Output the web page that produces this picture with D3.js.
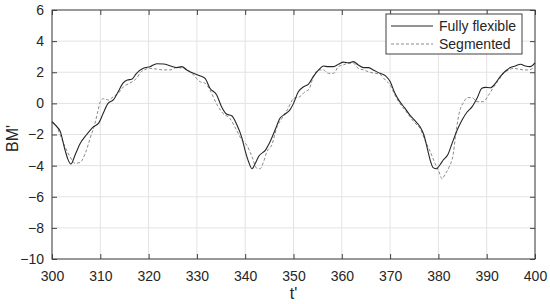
<!DOCTYPE html>
<meta charset="utf-8">
<head>
    <script src="https://d3js.org/d3.v7.min.js"></script>
    <style>
        body { margin: 0; background: #fff; }
        text { font-family: 'Liberation Sans', Arial, sans-serif; fill: #262626; }
    </style>
</head>
<body>
<div id="chart"></div>
<script>

// Fully flexible: t' and BM'
var flexT  = [300,301,301.7,302.7,303.3,303.9,304.8,305.8,307.2,308.6,309.7,310.6,311.6,312.7,313.7,314.7,315.6,316.5,317.5,318.9,320.3,321.7,323.1,324.4,325.8,326.9,327.9,329.3,330.6,331.7,332.7,334.1,335.1,336.2,337.2,338.3,339.3,340,340.7,341.4,342.1,342.8,344.2,345.1,346.2,347.2,348.2,349.3,350,351,352.1,353.1,354.1,355.2,356.2,357.2,358.3,359.3,360.3,361.4,362.4,363.4,364.5,365.5,366.5,367.9,369,370,371,372,373.1,374.1,375.2,376.2,377,377.7,378.4,378.9,379.6,380.3,381,382,382.8,383.9,384.9,385.9,387,388,389,389.7,390.8,391.8,392.8,393.9,394.9,395.9,397,398,399,400]
var flexBM = [-1.18,-1.5,-1.8,-3.0,-3.6,-3.9,-3.3,-2.6,-2.0,-1.5,-1.25,-0.64,0.0,0.22,0.75,1.3,1.5,1.55,1.93,2.25,2.36,2.55,2.53,2.42,2.3,2.36,2.15,1.93,1.78,1.6,0.97,0.54,-0.21,-0.7,-0.79,-1.39,-2.2,-3.05,-3.75,-4.2,-3.85,-3.4,-3.0,-2.5,-1.7,-0.96,-0.7,-0.4,0.0,0.75,1.07,1.23,1.72,2.15,2.4,2.36,2.36,2.51,2.65,2.6,2.68,2.47,2.3,2.3,2.15,1.93,1.78,1.4,0.65,0.11,-0.32,-0.75,-1.13,-1.5,-2.03,-2.89,-3.75,-4.13,-4.2,-3.96,-3.64,-3.27,-2.6,-1.71,-1.07,-0.57,-0.21,0.33,0.97,1.03,1.0,1.29,1.72,2.08,2.3,2.4,2.51,2.4,2.36,2.6]

// Segmented: t' and BM'
var segT  = [300,301,301.7,302.7,303.7,304.8,305.8,306.9,307.9,308.9,309.5,310,310.6,311.7,312.7,313.7,314.8,316.1,317.5,318.5,320.3,321.7,323.1,324.4,325.8,327.2,328.6,329.6,330.6,331.7,332.7,334.1,335.4,336.8,338.2,339.3,340.3,341.4,342.4,343.1,343.8,344.5,345.5,346.6,347.6,348.7,350.1,351.3,352.4,353.2,354.1,355.2,356.2,357.2,358.3,359.3,360.3,361.4,362.4,363.4,364.5,365.8,367.9,369,370,371,372,373.1,374.1,375.2,376.2,377.2,378.3,379.3,380,380.8,381.3,382.2,383.1,383.5,384.3,385.3,386,387,388,389.3,390.4,391.5,392.5,393.5,394.6,395.6,396.6,397.6,398.7,400]
var segBM = [-1.2,-1.5,-2.03,-2.78,-3.42,-3.85,-3.8,-3.2,-2.24,-1.28,-0.5,0.11,0.3,0.22,0.43,0.65,1.07,1.3,1.61,2.04,2.25,2.2,2.15,2.15,2.3,2.25,2.04,1.72,1.4,1.29,0.86,-0.05,-0.64,-0.96,-1.71,-2.35,-2.67,-3.42,-4.17,-4.2,-3.75,-3.1,-2.67,-1.5,-0.96,-0.42,0.33,0.43,0.75,0.9,1.72,2.15,2.15,1.93,1.93,2.36,2.47,2.58,2.58,2.25,2.15,2.0,1.86,1.5,1.18,0.54,0.0,-0.43,-0.86,-1.28,-1.6,-2.35,-3.1,-3.85,-4.3,-4.85,-4.6,-4.1,-3.2,-2.2,-0.64,0.11,0.37,0.37,0.11,0.11,0.54,1.07,1.5,1.93,2.15,2.25,2.2,2.15,2.15,2.36]

var xTicks = [300,310,320,330,340,350,360,370,380,390,400]
var yTicks = [-10,-8,-6,-4,-2,0,2,4,6]
var seriesNames = ["Fully flexible", "Segmented"]

var width = 550, height = 304
var margin = {top: 10, right: 15, bottom: 45, left: 52}
var w = width - margin.left - margin.right
var h = height - margin.top - margin.bottom

var svg = d3.select("#chart").append("svg")
    .attr("width", width).attr("height", height)
var g = svg.append("g")
    .attr("transform", "translate(" + margin.left + "," + margin.top + ")")

var x = d3.scaleLinear().domain([300, 400]).range([0, w])
var y = d3.scaleLinear().domain([-10, 6]).range([h, 0])

// grid
g.selectAll(".vgrid").data(xTicks).enter().append("line")
    .attr("x1", d => x(d)).attr("x2", d => x(d))
    .attr("y1", 0).attr("y2", h)
    .attr("stroke", "#e3e3e3").attr("stroke-width", 1)
g.selectAll(".hgrid").data(yTicks).enter().append("line")
    .attr("x1", 0).attr("x2", w)
    .attr("y1", d => y(d)).attr("y2", d => y(d))
    .attr("stroke", "#e3e3e3").attr("stroke-width", 1)

// axes, ticks pointing inward
var tickLen = 5
function styleAxis(sel) {
    sel.select(".domain").remove()
    sel.selectAll("line").attr("stroke", "#404040")
    sel.selectAll("text").style("font-size", "14px").attr("fill", "#262626")
        .style("font-family", "'Liberation Sans', Arial, sans-serif")
}
g.append("g").attr("transform", "translate(0," + h + ")")
    .call(d3.axisBottom(x).tickValues(xTicks).tickSize(-tickLen).tickPadding(12).tickFormat(d3.format("d")))
    .call(styleAxis)
g.append("g")
    .call(d3.axisTop(x).tickValues(xTicks).tickSize(-tickLen).tickFormat(""))
    .call(styleAxis)
g.append("g")
    .call(d3.axisLeft(y).tickValues(yTicks).tickSize(-tickLen).tickPadding(8).tickFormat(d3.format("d")))
    .call(styleAxis)
g.append("g").attr("transform", "translate(" + w + ",0)")
    .call(d3.axisRight(y).tickValues(yTicks).tickSize(-tickLen).tickFormat(""))
    .call(styleAxis)

// box
g.append("rect").attr("width", w).attr("height", h)
    .attr("fill", "none").attr("stroke", "#404040").attr("stroke-width", 1)

// lines
var line = d3.line()
    .x(d => x(d[0])).y(d => y(d[1]))
    .curve(d3.curveMonotoneX)

g.append("path")
    .datum(segT.map((t, i) => [t, segBM[i]]))
    .attr("d", line)
    .attr("fill", "none").attr("stroke", "#8a8a8a")
    .attr("stroke-width", 1).attr("stroke-dasharray", "3,2")

g.append("path")
    .datum(flexT.map((t, i) => [t, flexBM[i]]))
    .attr("d", line)
    .attr("fill", "none").attr("stroke", "#262626")
    .attr("stroke-width", 1.1)

// axis labels
svg.append("text")
    .attr("x", margin.left + w / 2).attr("y", 299)
    .attr("text-anchor", "middle").style("font-size", "16px")
    .text("t'")
svg.append("text")
    .attr("transform", "translate(18," + (margin.top + h / 2 + 4) + ") rotate(-90)")
    .attr("text-anchor", "middle").style("font-size", "16px")
    .text("BM'")

// legend
var lx = 386, ly = 14, lw = 136, lh = 40
var legend = svg.append("g")
legend.append("rect")
    .attr("x", lx).attr("y", ly).attr("width", lw).attr("height", lh)
    .attr("fill", "#fff").attr("stroke", "#404040").attr("stroke-width", 1)
var styles = [{stroke: "#262626", dash: null}, {stroke: "#8a8a8a", dash: "3,2"}]
seriesNames.forEach(function(name, i) {
    var yy = ly + 12 + i * 18
    legend.append("line")
        .attr("x1", lx + 5).attr("x2", lx + 47)
        .attr("y1", yy).attr("y2", yy)
        .attr("stroke", styles[i].stroke).attr("stroke-width", 1)
        .attr("stroke-dasharray", styles[i].dash)
    legend.append("text")
        .attr("x", lx + 53).attr("y", yy + 5)
        .style("font-size", "14px")
        .text(name)
})
</script>
</body>
